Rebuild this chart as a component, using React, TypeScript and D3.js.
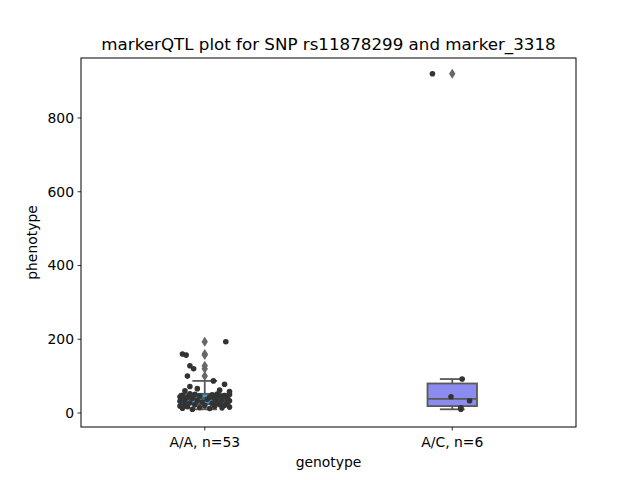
import React from "react";
import * as d3 from "d3";

const categories = ["A/A, n=53", "A/C, n=6"];
const boxColors = ["#3d9cd8", "#8c8cf0"];

const valuesAA = [
  10, 12, 13, 14, 15, 16, 17, 18, 19, 20, 21, 22, 23,
  24,
  26, 27, 28, 30, 31, 32, 33, 34, 35, 36, 37, 39,
  40,
  41, 42, 43, 44, 45, 46, 47, 48, 49, 50, 51, 51.5,
  52,
  58, 60, 62, 66, 72, 78, 87, 100, 120, 128, 157, 160, 193,
];
const jitterAA = [
  -0.05, 0.02, -0.09, 0.07, -0.02, 0.1, -0.07, 0.04, -0.1, 0.0, 0.08, -0.04, 0.06,
  -0.08,
  0.03, -0.06, 0.09, -0.01, 0.05, -0.1, 0.1, -0.03, 0.07, -0.08, 0.01, 0.04,
  -0.05,
  0.09, -0.07, 0.02, -0.1, 0.06, -0.02, 0.08, -0.09, 0.03, 0.1, -0.04, 0.05,
  -0.06,
  0.1, -0.08, 0.06, -0.03, -0.06, 0.08, 0.035, -0.07, -0.045, -0.06, -0.075, -0.09, 0.085,
];
const valuesAC = [920, 92, 44, 33, 14, 10];
const jitterAC = [-0.08, 0.04, -0.005, 0.07, 0.035, 0.035];

const yTicks = [0, 200, 400, 600, 800];

const W = 640, H = 480;
const M = { left: 81, right: 576, top: 58, bottom: 427 };

function stats(vals: number[]) {
  const s = [...vals].sort((a, b) => a - b);
  const q1 = d3.quantileSorted(s, 0.25)!;
  const med = d3.quantileSorted(s, 0.5)!;
  const q3 = d3.quantileSorted(s, 0.75)!;
  const iqr = q3 - q1;
  const lo = q1 - 1.5 * iqr, hi = q3 + 1.5 * iqr;
  const inside = s.filter(v => v >= lo && v <= hi);
  return { q1, med, q3, wlo: d3.min(inside)!, whi: d3.max(inside)!, out: s.filter(v => v < lo || v > hi) };
}

export default function App() {
  const x = d3.scaleLinear().domain([-0.5, 1.5]).range([M.left, M.right]);
  const y = d3.scaleLinear().domain([-38, 962.7]).range([M.bottom, M.top]);
  const groups = [
    { vals: valuesAA, jit: jitterAA },
    { vals: valuesAC, jit: jitterAC },
  ];
  const font = "DejaVu Sans, sans-serif";
  const boxW = 0.2;
  const edge = "#595959";
  return (
    <svg width={W} height={H} style={{ position: "absolute", left: 0, top: 0 }} fontFamily={font}>
      <rect x={0} y={0} width={W} height={H} fill="white" />
      {groups.map((g, i) => {
        const st = stats(g.vals);
        const cx = x(i);
        const hw = (x(boxW / 2) - x(0));
        const capW = hw / 2;
        return (
          <g key={"box" + i}>
            <line x1={cx} x2={cx} y1={y(st.q3)} y2={y(st.whi)} stroke={edge} strokeWidth={1.8} />
            <line x1={cx} x2={cx} y1={y(st.q1)} y2={y(st.wlo)} stroke={edge} strokeWidth={1.8} />
            <line x1={cx - capW} x2={cx + capW} y1={y(st.whi)} y2={y(st.whi)} stroke={edge} strokeWidth={1.8} />
            <line x1={cx - capW} x2={cx + capW} y1={y(st.wlo)} y2={y(st.wlo)} stroke={edge} strokeWidth={1.8} />
            <rect x={cx - hw} y={y(st.q3)} width={2 * hw} height={y(st.q1) - y(st.q3)} fill={boxColors[i]} stroke={edge} strokeWidth={1.8} />
            <line x1={cx - hw} x2={cx + hw} y1={y(st.med)} y2={y(st.med)} stroke={edge} strokeWidth={1.8} />
            {st.out.map((v, k) => (
              <path key={k} d={`M${cx},${y(v) - 5} L${cx + 3.2},${y(v)} L${cx},${y(v) + 5} L${cx - 3.2},${y(v)} Z`} fill="#676767" />
            ))}
          </g>
        );
      })}
      {groups.map((g, i) => (
        <g key={"pts" + i}>
          {g.vals.map((v, k) => (
            <circle key={k} cx={x(i + g.jit[k])} cy={y(v)} r={2.8} fill="#333333" />
          ))}
        </g>
      ))}
      <rect x={M.left} y={M.top} width={M.right - M.left} height={M.bottom - M.top} fill="none" stroke="black" strokeWidth={1} />
      {yTicks.map(t => (
        <g key={t}>
          <line x1={M.left} x2={M.left - 3.5} y1={y(t)} y2={y(t)} stroke="black" strokeWidth={0.8} />
          <text x={M.left - 7} y={y(t)} dy="0.35em" textAnchor="end" fontSize={13.9} fill="black">{t}</text>
        </g>
      ))}
      {categories.map((c, i) => (
        <g key={c}>
          <line x1={x(i)} x2={x(i)} y1={M.bottom} y2={M.bottom + 3.5} stroke="black" strokeWidth={0.8} />
          <text x={x(i)} y={M.bottom + 20} textAnchor="middle" fontSize={13.9} fill="black">{c}</text>
        </g>
      ))}
      <text x={(M.left + M.right) / 2} y={467} textAnchor="middle" fontSize={13.9} fill="black">genotype</text>
      <text transform={`translate(37,${(M.top + M.bottom) / 2}) rotate(-90)`} textAnchor="middle" fontSize={13.9} fill="black">phenotype</text>
      <text x={(M.left + M.right) / 2} y={50} textAnchor="middle" fontSize={16.7} fill="black">markerQTL plot for SNP rs11878299 and marker_3318</text>
    </svg>
  );
}
